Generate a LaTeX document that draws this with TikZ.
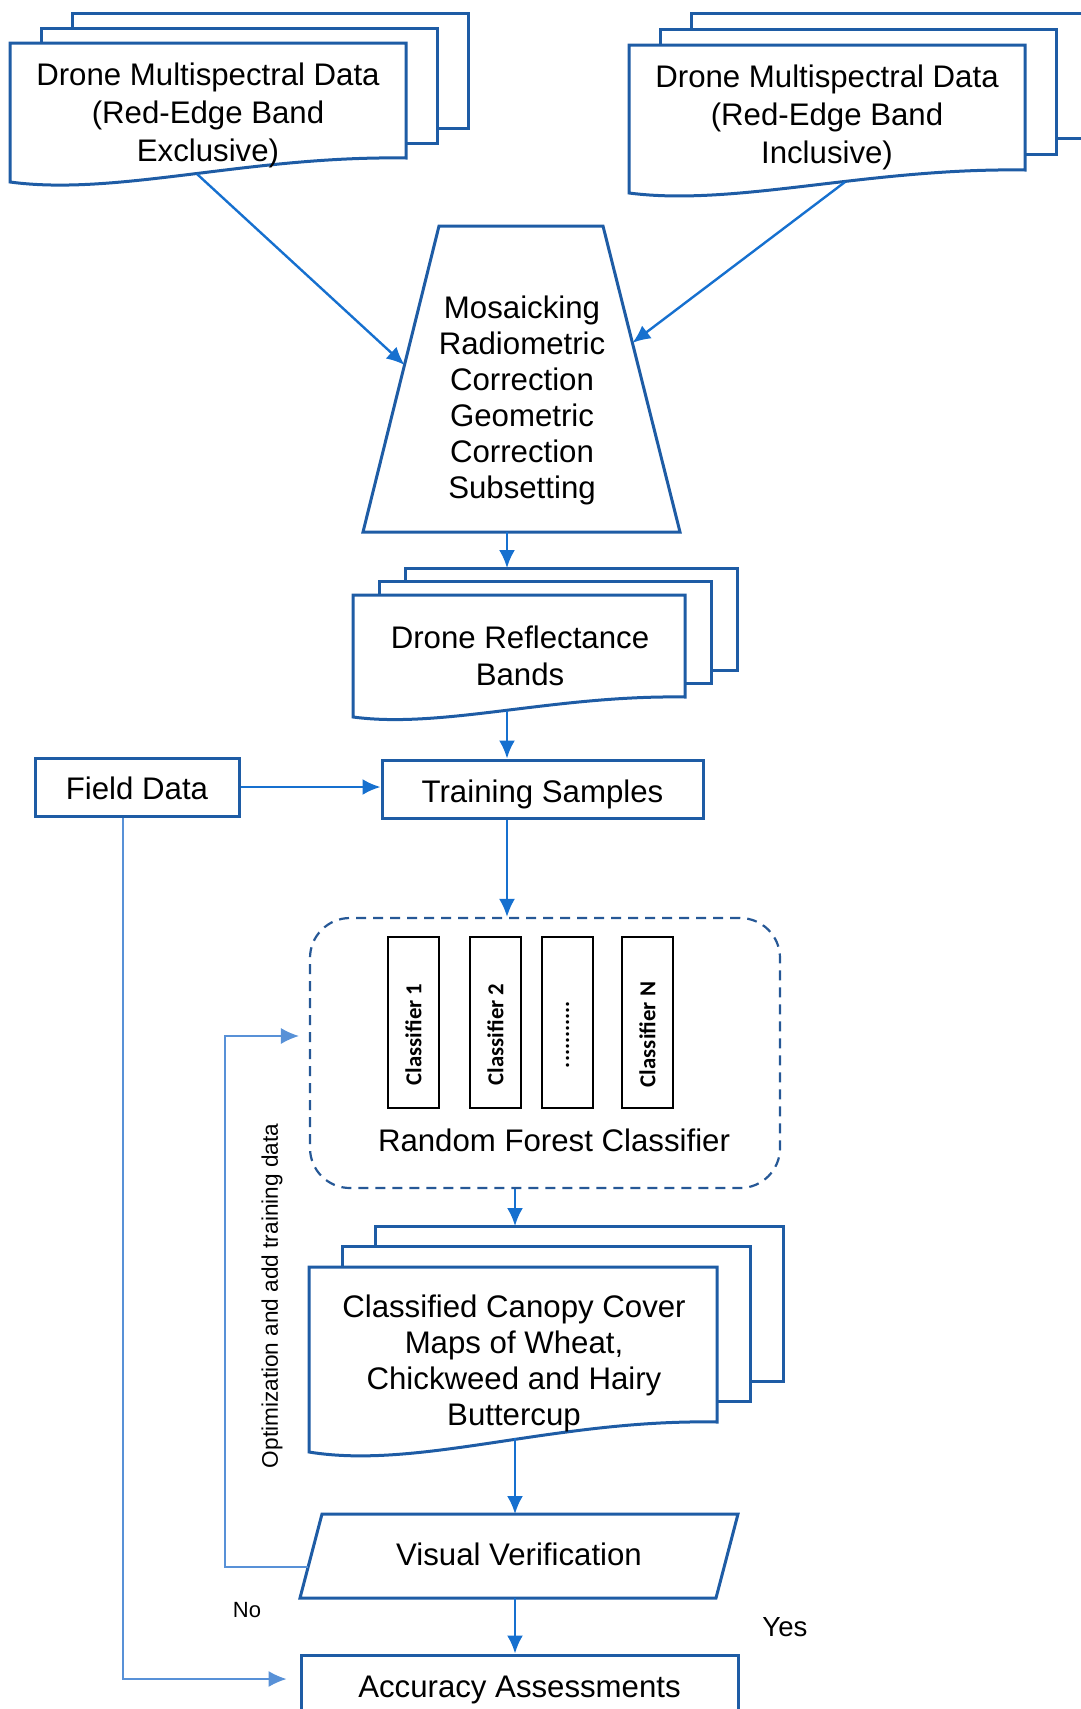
\documentclass[tikz,border=0pt]{standalone}
\usepackage{fontspec}
\setmainfont{Liberation Sans}
\newfontfamily\clffont{Carlito}
\usetikzlibrary{arrows.meta,calc}

\definecolor{boxblue}{RGB}{30,92,165}
\definecolor{arrowblue}{RGB}{22,112,207}
\definecolor{loopblue}{RGB}{88,145,215}
\definecolor{dashblue}{RGB}{38,88,150}

% stacked document symbol: left, top, right, bottom right, bottom left, dx, dy, name
\newcommand{\docstack}[8]{%
  \foreach \k in {2,1}
    \draw[docline] ({#1+\k*#6},{#2-\k*#7}) rectangle ({#3+\k*#6},{#4-\k*#7});
  \draw[docline] (#1,#2) -- (#3,#2) -- (#3,#4)
    .. controls ({#1+0.6*(#3-#1)},{#4-0.1*(#5-#4)})
           and ({#1+0.27*(#3-#1)},{#5+0.6*(#5-#4)}) .. (#1,#5) -- cycle;
  \coordinate (#8-back) at ({#1+2*#6},{#2-2*#7});
}

\begin{document}
\begin{tikzpicture}[x=0.5pt, y=-0.5pt,
    docline/.style={draw=boxblue, line width=1.5pt, fill=white},
    txt/.style={align=center, inner sep=0pt, font=\fontsize{15.6}{18}\selectfont},
    doctxt/.style={txt, font=\fontsize{15.6}{19}\selectfont},
    box/.style={draw=boxblue, line width=1.5pt, inner sep=0pt, font=\fontsize{15.6}{18}\selectfont},
    flow/.style={-{Latex[length=9pt,width=8pt]}, draw=arrowblue, line width=1.2pt},
    loopflow/.style={-{Latex[length=9pt,width=8pt]}, draw=loopblue, line width=0.7pt},
    clf/.style={draw, line width=0.8pt, minimum width=25.5pt, minimum height=85.5pt, inner sep=0pt},
    clftext/.style={rotate=90, xshift=-6pt, inner sep=0pt, font=\clffont\bfseries\fontsize{11.4}{13}\selectfont}]

    \useasboundingbox (0,0) rectangle (1081,1709);
    \clip (0,0) rectangle (1081,1709);

    % --- Datos de entrada (dos pilas de documentos) ---
    \docstack{10}{43}{406}{158}{182}{31}{15}{ExcDoc}
    \node[doctxt] (Exclusive) at (208,115) {Drone Multispectral Data\\(Red-Edge Band\\Exclusive)};
    \docstack{629}{45}{1025}{170}{193}{31}{16}{IncDoc}
    \node[doctxt] (Inclusive) at (827,117) {Drone Multispectral Data\\(Red-Edge Band\\Inclusive)};

    % --- Preprocesado (trapecio) ---
    \draw[draw=boxblue, line width=1.5pt] (439,226) coordinate (PreTL) -- (603,226) coordinate (PreTR)
        -- (680,532) coordinate (PreBR) -- (363,532) coordinate (PreBL) -- cycle;
    \node[txt] (Preproc) at (522,400) {Mosaicking\\Radiometric\\Correction\\Geometric\\Correction\\Subsetting};

    \coordinate (ExclusiveOut) at (197,174);
    \coordinate (InclusiveOut) at (845,182);
    \draw[flow] (ExclusiveOut) -- ($(PreBL)!0.546!(PreTL)$);
    \draw[flow] (InclusiveOut) -- ($(PreBR)!0.618!(PreTR)$);

    % --- Bandas de reflectancia ---
    \coordinate (Axis1) at (507,0);
    \coordinate (Axis2) at (515,0);
    \docstack{353}{595}{685}{697}{717}{26}{13.5}{RefDoc}
    \node[txt, font=\fontsize{15.6}{18.5}\selectfont] (Reflectance) at (520,656) {Drone Reflectance\\Bands};
    \draw[flow] (Axis1 |- PreBL) -- (Axis1 |- RefDoc-back);

    % --- Muestras de entrenamiento ---
    \node[box, minimum width=160.5pt, minimum height=29pt, text height=16.8pt, text depth=3.1pt] (Training) at (542.5,789) {Training Samples};
    \node[box, minimum width=102pt, minimum height=29pt, text height=15.8pt, text depth=3.1pt] (FieldData) at (137,787) {Field Data};
    \coordinate (ReflectanceOut) at (507,711);
    \draw[flow] (ReflectanceOut) -- (ReflectanceOut |- Training.north);
    \draw[flow] (FieldData.east) -- (FieldData.east -| Training.west);

    % --- Random Forest ---
    \node[draw=dashblue, line width=1.1pt, dash pattern=on 5pt off 3.5pt, rounded corners=20pt,
          minimum width=235pt, minimum height=135pt] (Forest) at (545,1053) {};
    \draw[flow] (Axis1 |- Training.south) -- (Axis1 |- Forest.north);
    \node[clf, label={[clftext]center:Classifier 1}] (Clf1) at (413.5,1022.5) {};
    \node[clf, label={[clftext]center:Classifier 2}] (Clf2) at (495.5,1022.5) {};
    \node[clf, label={[clftext]center:...........}] (ClfDots) at (567.5,1022.5) {};
    \node[clf, label={[clftext]center:Classifier N}] (ClfN) at (647.5,1022.5) {};
    \node[txt] (ForestLabel) at (554,1140) {Random Forest Classifier};

    % --- Mapas clasificados ---
    \docstack{309}{1267}{717}{1422}{1452}{33}{20.5}{MapDoc}
    \node[txt] (Classified) at (514,1363) {Classified Canopy Cover\\Maps of Wheat,\\Chickweed and Hairy\\Buttercup};
    \draw[flow] (Axis2 |- Forest.south) -- (Axis2 |- MapDoc-back);

    % --- Verificacion visual y exactitud ---
    \draw[draw=boxblue, line width=1.5pt] (322,1514) coordinate (VerTL) -- (738,1514) coordinate (VerTR)
        -- (716,1598) coordinate (VerBR) -- (300,1598) coordinate (VerBL) -- cycle;
    \node[txt] (Verify) at (519,1554) {Visual Verification};
    \node[box, minimum width=218.5pt, minimum height=30pt, text height=15.6pt, text depth=3.1pt] (Accuracy) at (519.5,1685) {Accuracy Assessments};
    \coordinate (ClassifiedOut) at (515,1438);
    \draw[flow] (ClassifiedOut) -- (ClassifiedOut |- VerTL);
    \draw[flow] (Axis2 |- VerBL) -- (Axis2 |- Accuracy.north);

    % --- Lazo de retroalimentacion y datos de campo ---
    \coordinate (VerifyLeft) at ($(VerBL)!0.37!(VerTL)$);
    \coordinate (LoopTurn) at (225,1036);
    \draw[loopflow, shorten >=5pt] (VerifyLeft) -| (LoopTurn) -- (LoopTurn -| Forest.west);
    \draw[loopflow, shorten >=6.5pt] ([xshift=-7pt]FieldData.south) |- ([yshift=3pt]Accuracy.west);

    \node[rotate=90, font=\fontsize{11.3}{13}\selectfont] (LoopLabel) at (272,1296) {Optimization and add training data};
    \node[font=\fontsize{11}{13}\selectfont] (NoLabel) at (247,1610) {No};
    \node[font=\fontsize{13.8}{16}\selectfont] (YesLabel) at (785,1627) {Yes};

\end{tikzpicture}
\end{document}
